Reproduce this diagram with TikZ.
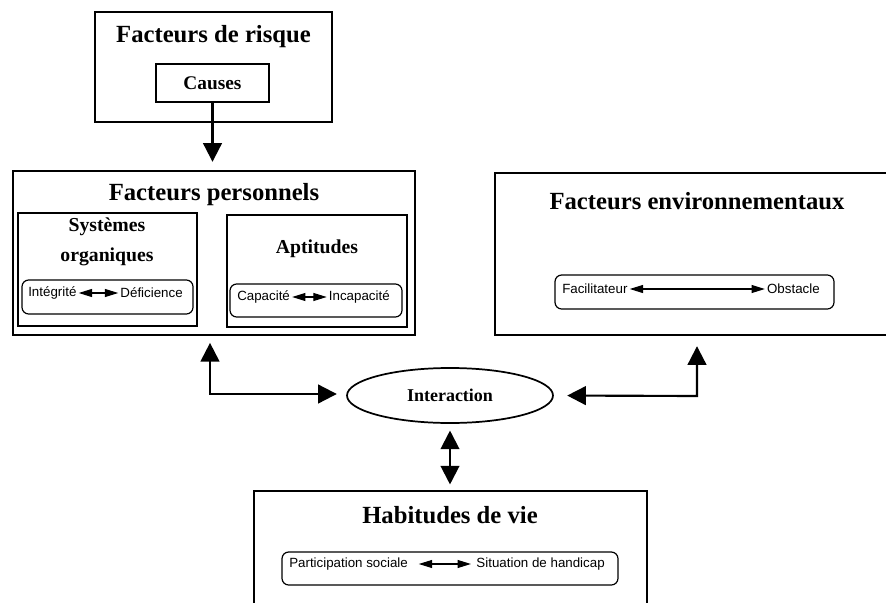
\documentclass[tikz,border=0pt]{standalone}
\usepackage{fontspec}
\setmainfont{Liberation Serif}
\setsansfont{Liberation Sans}
\usetikzlibrary{arrows.meta,shapes.geometric}

\tikzset{
  bigbox/.style={draw, line width=1.8pt, inner sep=0pt},
  subbox/.style={draw, line width=1.3pt, inner sep=0pt},
  pillbox/.style={draw, line width=0.9pt, rounded corners=5pt, inner sep=0pt},
  boxtitle/.style={inner sep=0pt, font=\bfseries\fontsize{18.5}{22}\selectfont},
  subtitle/.style={inner sep=0pt, align=center, font=\bfseries\fontsize{14.8}{22.5}\selectfont},
  pilltext/.style={inner sep=0pt, font=\sffamily\fontsize{10}{12}\selectfont},
  bigline/.style={line width=1.6pt, >={Triangle[length=14pt,width=14pt]}},
  smallarrow/.style={line width=0.8pt, shorten <=1.5pt, shorten >=1.5pt,
                     {Triangle[length=10pt,width=6pt]}-{Triangle[length=10pt,width=6pt]}}
}

\begin{document}
\begin{tikzpicture}[x=0.75pt, y=-0.75pt]

    \useasboundingbox (0,0) rectangle (886,603);
    \clip (0,0) rectangle (886,603);

    \node [bigbox, minimum width=177.75pt, minimum height=82.5pt] (risque) at (213.5, 67) {};
    \node [boxtitle] (risquetitle) at (213.5, 37) {Facteurs de risque};
    \node [draw, line width=1pt, inner sep=0pt, minimum width=84.75pt, minimum height=28.5pt,
           font=\bfseries\fontsize{14.5}{17}\selectfont] (causes) at (212.5, 83) {Causes};

    \node [bigbox, minimum width=301.5pt, minimum height=123pt] (personnels) at (214, 253) {};
    \node [boxtitle] (personnelstitle) at (214, 195) {Facteurs personnels};

    \node [subbox, minimum width=134.25pt, minimum height=84.75pt] (systemes) at (107.5, 269.5) {};
    \node [subtitle] (systemestitle) at (107, 242) {Systèmes\\organiques};
    \node [pillbox, minimum width=128.25pt, minimum height=25.5pt] (systemespill) at (107.5, 297) {};
    \node [pilltext, anchor=west] (integrite) at (28, 293) {Intégrité};
    \node [pilltext, anchor=east] (deficience) at (183, 293) {Déficience};

    \node [subbox, minimum width=135pt, minimum height=84pt] (aptitudes) at (317, 271) {};
    \node [subtitle] (aptitudestitle) at (317, 249) {Aptitudes};
    \node [pillbox, minimum width=129pt, minimum height=24.75pt] (aptitudespill) at (316, 300.5) {};
    \node [pilltext, anchor=west] (capacite) at (237, 297) {Capacité};
    \node [pilltext, anchor=east] (incapacite) at (390, 297) {Incapacité};

    \node [bigbox, minimum width=307.5pt, minimum height=121.5pt] (environ) at (700, 254) {};
    \node [boxtitle] (environtitle) at (697, 201) {Facteurs environnementaux};
    \node [pillbox, minimum width=209.25pt, minimum height=25.5pt] (environpill) at (694.5, 292) {};
    \node [pilltext, anchor=west] (facilitateur) at (562, 289) {Facilitateur};
    \node [pilltext, anchor=east] (obstacle) at (820, 289) {Obstacle};

    \node [draw, ellipse, line width=1.3pt, inner sep=0pt, minimum width=154.5pt, minimum height=41.25pt,
           font=\bfseries\fontsize{13.5}{16}\selectfont] (interaction) at (450, 395.5) {Interaction};

    \node [bigbox, minimum width=294.75pt, minimum height=93pt] (habitudes) at (450.5, 553) {};
    \node [boxtitle] (habitudestitle) at (450, 515) {Habitudes de vie};
    \node [pillbox, minimum width=252pt, minimum height=24.75pt] (habitudespill) at (450, 568.5) {};
    \node [pilltext, anchor=west] (participation) at (289, 564) {Participation sociale};
    \node [pilltext, anchor=east] (situation) at (605, 564) {Situation de handicap};

    \coordinate (lcorner) at (210, 394);
    \coordinate (rcorner) at (697, 396);

    \draw [smallarrow] (integrite) to (deficience);
    \draw [smallarrow] (capacite) to (incapacite);
    \draw [smallarrow] (facilitateur) to (obstacle);
    \draw [smallarrow, shorten <=8pt, shorten >=4pt] (participation) to (situation);

    \draw [bigline, ->, shorten >=6pt] (causes) to (causes |- personnels.north);
    \draw [bigline, <->, shorten <=5pt, shorten >=7pt] (personnels.south -| lcorner) -- (lcorner) -- (lcorner -| interaction.west);
    \draw [bigline, <->, shorten <=10pt, shorten >=7.5pt] (interaction.east) -- (rcorner) -- (environ.south -| rcorner);
    \draw [bigline, <->, shorten <=5pt, shorten >=4pt] (interaction.south) to (interaction.south |- habitudes.north);

\end{tikzpicture}
\end{document}
